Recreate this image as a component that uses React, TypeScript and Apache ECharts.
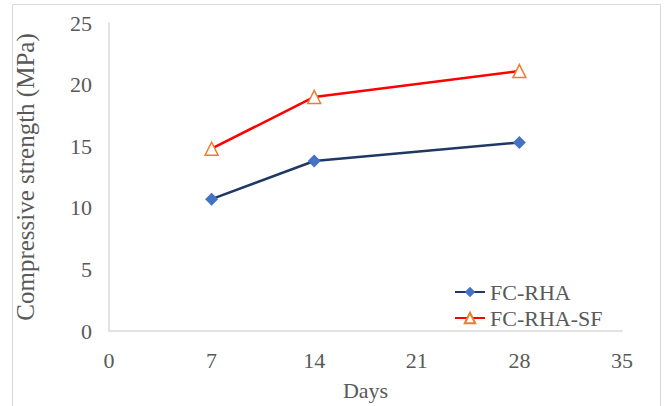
import React, { useEffect, useRef } from "react";
import * as echarts from "echarts";

const days = [7, 14, 28];
const fcRha = [10.7, 13.8, 15.3];
const fcRhaSf = [14.8, 19.0, 21.1];
const seriesNames = ["FC-RHA", "FC-RHA-SF"];
const xTitle = "Days";
const yTitle = "Compressive strength (MPa)";

const FONT = "Liberation Serif";
const TEXT = "#595959";

export default function App() {
  const ref = useRef<HTMLDivElement>(null);
  useEffect(() => {
    if (!ref.current) return;
    const chart = echarts.init(ref.current, undefined, { renderer: "svg" });
    chart.setOption({
      animation: false,
      backgroundColor: "#ffffff",
      textStyle: { fontFamily: FONT },
      graphic: [
        {
          type: "rect",
          shape: { x: 12.5, y: 4.5, width: 648, height: 430 },
          style: { fill: "none", stroke: "#d9d9d9", lineWidth: 1 },
          silent: true,
        },
      ],
      grid: {
        left: 109,
        right: 43,
        top: 23,
        bottom: 75,
        containLabel: false,
        outerBoundsMode: "none",
      },
      legend: {
        orient: "vertical",
        left: 449,
        top: 276,
        itemWidth: 30,
        itemHeight: 13,
        itemGap: 4,
        data: seriesNames,
        textStyle: { fontFamily: FONT, fontSize: 22, color: TEXT },
      },
      xAxis: {
        type: "value",
        min: 0,
        max: 35,
        interval: 7,
        name: xTitle,
        nameLocation: "middle",
        nameGap: 48,
        nameTextStyle: { fontFamily: FONT, fontSize: 22, color: TEXT },
        axisLine: { show: true, lineStyle: { color: "#d9d9d9", width: 1.5 } },
        axisTick: { show: false },
        splitLine: { show: false },
        axisLabel: { fontFamily: FONT, fontSize: 22, color: TEXT, margin: 18 },
      },
      yAxis: {
        type: "value",
        min: 0,
        max: 25,
        interval: 5,
        name: yTitle,
        nameLocation: "middle",
        nameGap: 71,
        nameTextStyle: { fontFamily: FONT, fontSize: 25, color: TEXT },
        axisLine: { show: true, lineStyle: { color: "#d9d9d9", width: 1.5 } },
        axisTick: { show: false },
        splitLine: { show: false },
        axisLabel: { fontFamily: FONT, fontSize: 22, color: TEXT, margin: 17 },
      },
      series: [
        {
          name: seriesNames[0],
          type: "line",
          data: days.map((d, i) => [d, fcRha[i]]),
          symbol: "diamond",
          symbolSize: 13,
          lineStyle: { color: "#203864", width: 2.5 },
          itemStyle: { color: "#4472C4" },
        },
        {
          name: seriesNames[1],
          type: "line",
          data: days.map((d, i) => [d, fcRhaSf[i]]),
          symbol: "triangle",
          symbolSize: 13,
          lineStyle: { color: "#FF0000", width: 2.5 },
          itemStyle: { color: "#ffffff", borderColor: "#ED7D31", borderWidth: 1.5 },
        },
      ],
    });
    return () => chart.dispose();
  }, []);
  return (
    <div style={{ position: "absolute", left: 0, top: 0, width: 665, height: 406 }}>
      <div ref={ref} style={{ width: 665, height: 406 }} />
    </div>
  );
}
